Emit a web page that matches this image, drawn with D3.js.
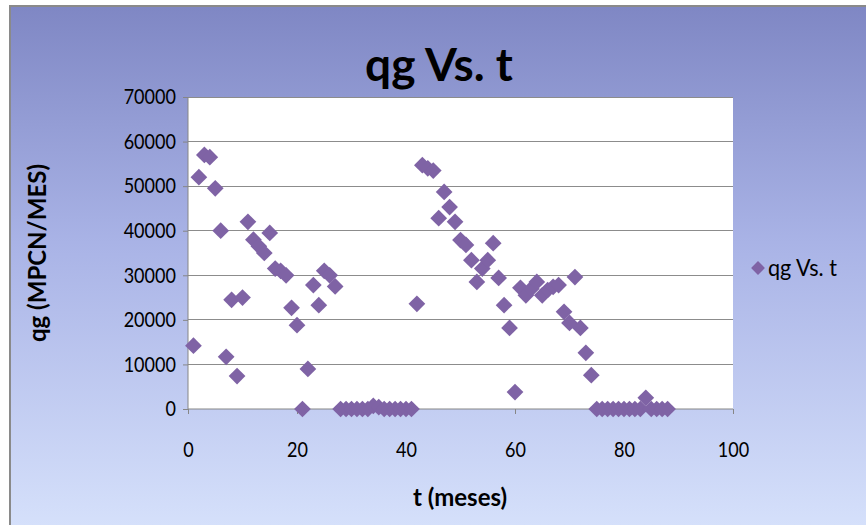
<!DOCTYPE html>
<html><head><meta charset="utf-8">
<script src="https://cdn.jsdelivr.net/npm/d3@7"></script>
<style>html,body{margin:0;padding:0;background:#fff;overflow:hidden}svg{display:block}</style>
</head><body>
<script>
const months = d3.range(1, 89);
const qg = [14200,52000,57000,56500,49500,40000,11700,24500,7400,25000,
  42000,38000,36500,35000,39500,31500,31000,30000,22700,18800,
  0,9000,27800,23300,31000,30000,27500,0,0,0,
  0,0,0,700,400,0,0,0,0,0,
  0,23600,54700,54000,53500,42800,48700,45300,42000,37900,
  36800,33400,28500,31500,33400,37200,29400,23300,18200,3800,
  27200,25500,27000,28500,25500,26700,27400,27800,21800,19300,
  29600,18200,12600,7600,0,0,0,0,0,0,
  0,0,0,2500,0,0,0,0];
const xTicks = [0,20,40,60,80,100];
const yTicks = [0,10000,20000,30000,40000,50000,60000,70000];
const title = "qg Vs. t";
const seriesName = "qg Vs. t";
const xTitle = "t (meses)";
const yTitle = "qg (MPCN/MES)";

const W = 866, H = 525;
const svg = d3.select("body").append("svg").attr("width", W).attr("height", H);
const defs = svg.append("defs");
const g = defs.append("linearGradient").attr("id","bg").attr("x1",0).attr("y1",0).attr("x2",0).attr("y2",1);
g.append("stop").attr("offset","0%").attr("stop-color","#7f87c4");
g.append("stop").attr("offset","45%").attr("stop-color","#a9b3e6");
g.append("stop").attr("offset","100%").attr("stop-color","#d6e1fb");

svg.append("rect").attr("x",10).attr("y",6).attr("width",W).attr("height",H)
  .attr("fill","url(#bg)").attr("stroke","#8a8a8a").attr("stroke-width",2);

const x = d3.scaleLinear().domain([0,100]).range([188,733]);
const y = d3.scaleLinear().domain([0,70000]).range([409,97]);

svg.append("rect").attr("x",x(0)).attr("y",y(70000))
  .attr("width",x(100)-x(0)).attr("height",y(0)-y(70000)).attr("fill","#fff");

const font = "Lato, 'Open Sans', sans-serif";
const sx = 0.86;

// gridlines
svg.append("g").selectAll("line").data(yTicks.filter(d=>d>0)).join("line")
  .attr("x1",x(0)).attr("x2",x(100)).attr("y1",d=>y(d)).attr("y2",d=>y(d))
  .attr("stroke","#8c8c8c").attr("stroke-width",1).attr("shape-rendering","crispEdges");

const yAxis = svg.append("g").attr("transform",`translate(${x(0)},0)`)
  .call(d3.axisLeft(y).tickValues(yTicks).tickSize(5).tickPadding(7).tickFormat(d3.format("d")));
const xAxis = svg.append("g").attr("transform",`translate(0,${y(0)})`)
  .call(d3.axisBottom(x).tickValues(xTicks).tickSize(5).tickPadding(28).tickFormat(d3.format("d")));
[xAxis,yAxis].forEach(a=>{
  a.select(".domain").attr("stroke","#868686");
  a.selectAll(".tick line").attr("stroke","#868686");
  a.selectAll("text").attr("font-family",font).attr("font-size",21).attr("fill","#000")
    .attr("transform",`scale(${sx},1)`);
});
yAxis.selectAll("text").attr("x",-12/sx);
xAxis.select(".domain").attr("d",`M${x(0)},0H${x(100)}`);
yAxis.select(".domain").attr("d",`M0,${y(0)}V${y(70000)}`);

// points
const color = "#7f63a5";
const diamond = d3.symbol().type(d3.symbolSquare).size(140);
svg.append("g").selectAll("path").data(months.map((m,i)=>({m,v:qg[i]}))).join("path")
  .attr("d",diamond)
  .attr("transform",d=>`translate(${x(d.m)},${y(d.v)}) rotate(45)`)
  .attr("fill",color);

// titles
svg.append("text").attr("x",439).attr("y",81).attr("text-anchor","middle")
  .attr("font-family",font).attr("font-weight","bold").attr("font-size",46).attr("fill","#000").text(title);
svg.append("text").attr("x",460).attr("y",506).attr("text-anchor","middle")
  .attr("font-family",font).attr("font-weight","bold").attr("font-size",24).attr("fill","#000").text(xTitle);
svg.append("text").attr("transform","translate(46,253) rotate(-90)").attr("text-anchor","middle")
  .attr("font-family",font).attr("font-weight","bold").attr("font-size",24).attr("fill","#000").text(yTitle);

// legend
svg.append("path").attr("d",d3.symbol().type(d3.symbolSquare).size(95))
  .attr("transform","translate(758,268) rotate(45)").attr("fill",color);
svg.append("text").attr("x",768).attr("y",276).attr("font-family",font)
  .attr("font-size",24).attr("fill","#000").attr("transform","translate(768,0) scale(0.9,1) translate(-768,0)").text(seriesName);
</script>
</body></html>
